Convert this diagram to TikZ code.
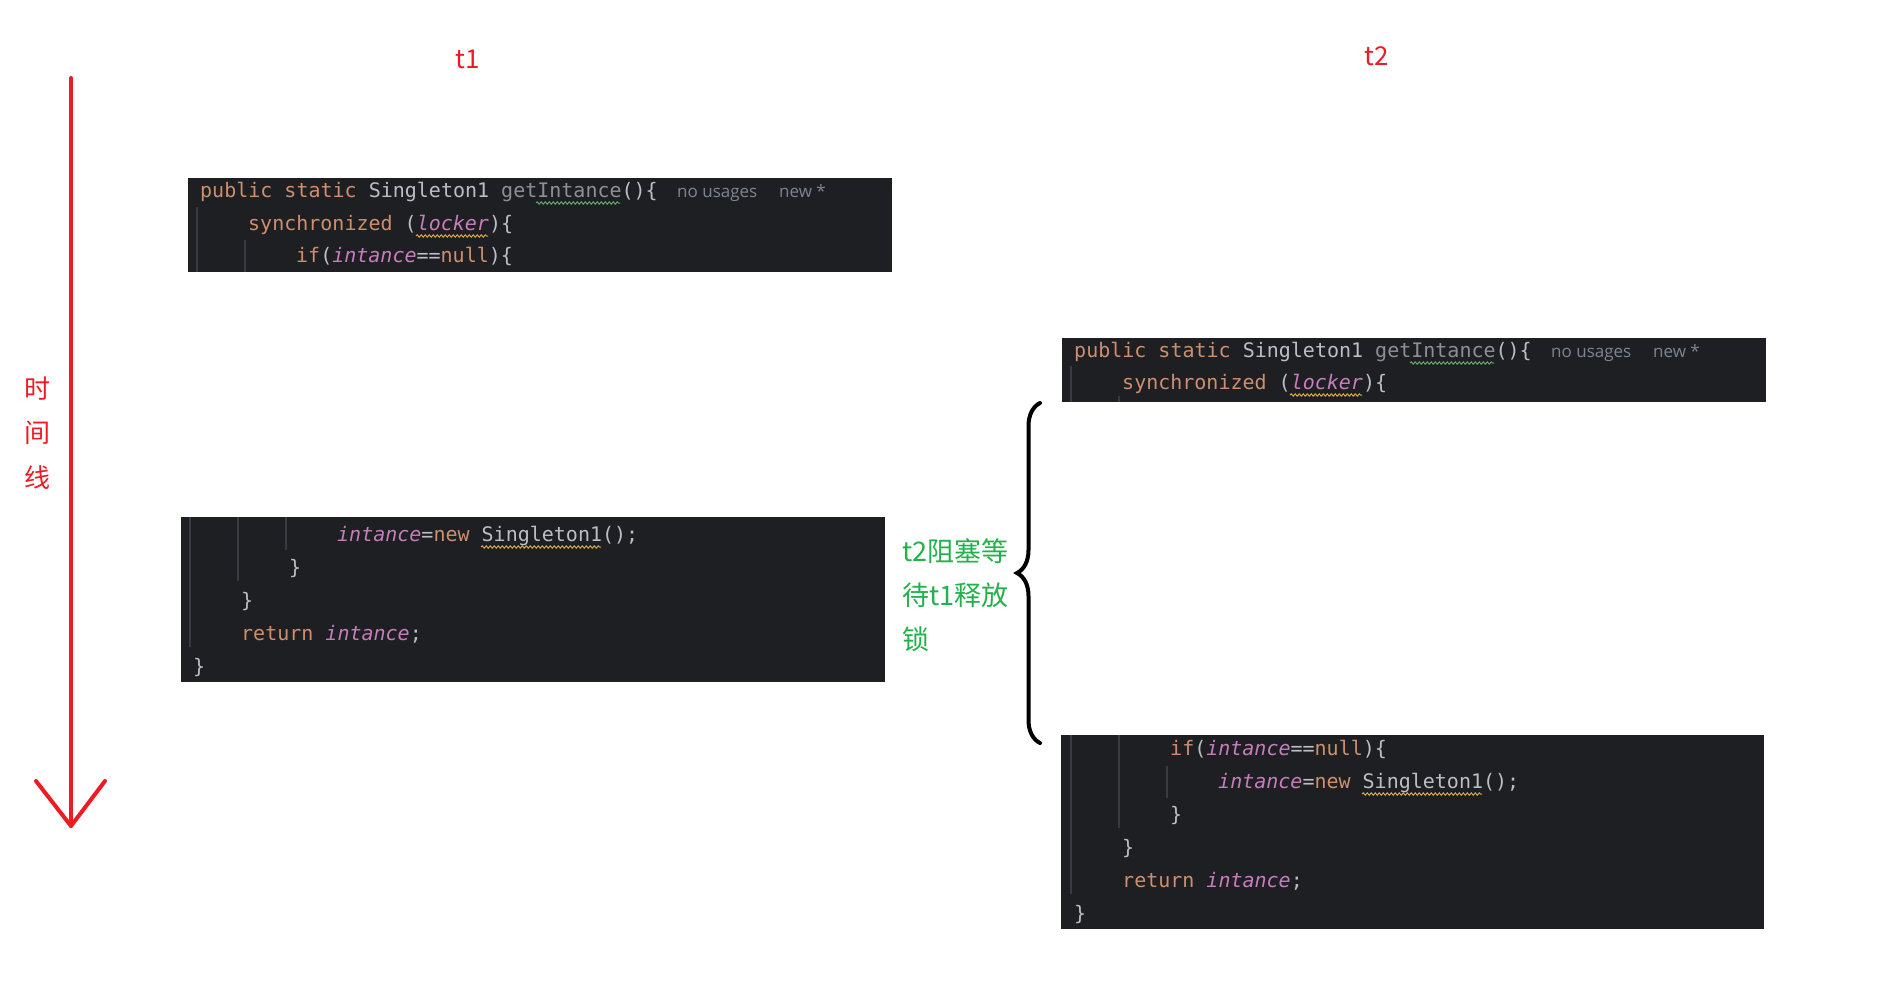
\documentclass[tikz,border=0pt]{standalone}
\usepackage{fontspec}
\usetikzlibrary{decorations.pathmorphing,decorations.pathreplacing}
\newfontfamily\codefont{DejaVu Sans Mono}[ItalicFont={* Oblique}]
\newfontfamily\hintfont{Open Sans}
\newfontfamily\cjk{Noto Sans CJK SC}
\definecolor{bg}{HTML}{1E1F22}
\definecolor{kw}{HTML}{CF8E6D}
\definecolor{txt}{HTML}{BCBEC4}
\definecolor{fld}{HTML}{C77DBB}
\definecolor{gry}{HTML}{8C8F94}
\definecolor{hintc}{HTML}{7E8590}
\definecolor{guidec}{HTML}{393B40}
\definecolor{wavegreen}{HTML}{5FA866}
\definecolor{waveyellow}{HTML}{D9A83F}
\definecolor{redc}{HTML}{ED1C24}
\definecolor{greenc}{HTML}{22B14C}
\newcommand{\fl}[1]{{\itshape\color{fld}#1}}
\newcommand{\kw}[1]{\textcolor{kw}{#1}}
\begin{document}
\begin{tikzpicture}[x=1pt,y=-1pt,
  codebg/.style={fill=bg},
  codeln/.style={anchor=base west,inner sep=0pt,text=txt,font=\codefont\fontsize{20}{24}\selectfont},
  hint/.style={anchor=base west,inner sep=0pt,text=hintc,font=\hintfont\fontsize{17}{20}\selectfont},
  guide/.style={draw=guidec,line width=1.5pt},
  wavyg/.style={draw=wavegreen,line width=1pt,decorate,decoration={snake,segment length=4pt,amplitude=1.2pt}},
  wavyy/.style={draw=waveyellow,line width=1pt,decorate,decoration={snake,segment length=4pt,amplitude=1.2pt}},
  redlbl/.style={text=redc,inner sep=0pt,font=\cjk\fontsize{26}{30}\selectfont},
  cnred/.style={text=redc,inner sep=0pt,font=\cjk\fontsize{26}{30}\selectfont},
  greenlbl/.style={anchor=west,text=greenc,inner sep=0pt,font=\cjk\fontsize{27}{32}\selectfont},
  redline/.style={draw=redc,line width=4pt,line cap=round,line join=round},
  bracestyle/.style={draw=black,line width=4pt,line cap=round,decorate,decoration={brace,amplitude=23pt}}
]
\fill[white] (0,0) rectangle (1877,999);
\useasboundingbox (0,0) rectangle (1877,999);

% labels
\node[redlbl] (t1) at (468,59) {t1};
\node[redlbl] (t2) at (1377,56) {t2};

% time line
\coordinate (arrTop) at (71,78);
\coordinate (arrTip) at (71,826);
\coordinate (armL) at (36,781);
\coordinate (armR) at (105,781);
\draw[redline] (arrTop) -- (arrTip);
\draw[redline] (armL) -- (arrTip) -- (armR);
\node[cnred] (c1) at (37,389) {时};
\node[cnred] (c2) at (37,433) {间};
\node[cnred] (c3) at (37,478) {线};

% ---------- block 1 ----------
\fill[codebg] (188,178) rectangle (892,272);
\draw[guide] (197,207) -- (197,272);
\draw[guide] (245,240) -- (245,272);
\node[codeln] (a1) at (200,197) {\kw{public static }Singleton1 \textcolor{gry}{getIntance}()\{};
\node[hint] (a1h) at (677,197) {no usages};
\node[hint] (a1n) at (779,197) {new *};
\node[codeln] (a2) at (248,230) {\kw{synchronized }(\fl{locker})\{};
\node[codeln] (a3) at (296,262) {\kw{if}(\fl{intance}==\kw{null})\{};
\draw[wavyg] (536,203) -- (620,203);
\draw[wavyy] (416,236) -- (488,236);

% ---------- block 2 ----------
\fill[codebg] (181,517) rectangle (885,682);
\draw[guide] (190,517) -- (190,647);
\draw[guide] (238,517) -- (238,581);
\draw[guide] (286,517) -- (286,550);
\node[codeln] (b1) at (337,541) {\fl{intance}=\kw{new }Singleton1();};
\node[codeln] (b2) at (289,574) {\}};
\node[codeln] (b3) at (241,607) {\}};
\node[codeln] (b4) at (241,640) {\kw{return }\fl{intance};};
\node[codeln] (b5) at (193,673) {\}};
\draw[wavyy] (481,547) -- (601,547);

% ---------- block 3 ----------
\fill[codebg] (1062,338) rectangle (1766,402);
\draw[guide] (1071,366) -- (1071,402);
\draw[guide] (1119,396) -- (1119,402);
\node[codeln] (c1l) at (1074,357) {\kw{public static }Singleton1 \textcolor{gry}{getIntance}()\{};
\node[hint] (c1h) at (1551,357) {no usages};
\node[hint] (c1n) at (1653,357) {new *};
\node[codeln] (c2l) at (1122,389) {\kw{synchronized }(\fl{locker})\{};
\draw[wavyg] (1410,363) -- (1494,363);
\draw[wavyy] (1290,395) -- (1362,395);

% ---------- block 4 ----------
\fill[codebg] (1061,735) rectangle (1764,929);
\draw[guide] (1071,735) -- (1071,894);
\draw[guide] (1119,735) -- (1119,828);
\draw[guide] (1167,766) -- (1167,798);
\node[codeln] (d1) at (1170,755) {\kw{if}(\fl{intance}==\kw{null})\{};
\node[codeln] (d2) at (1218,788) {\fl{intance}=\kw{new }Singleton1();};
\node[codeln] (d3) at (1170,821) {\}};
\node[codeln] (d4) at (1122,854) {\}};
\node[codeln] (d5) at (1122,887) {\kw{return }\fl{intance};};
\node[codeln] (d6) at (1074,920) {\}};
\draw[wavyy] (1362,794) -- (1482,794);

% ---------- brace and note ----------
\draw[bracestyle] (1040,743) -- (1040,403);
\node[greenlbl] (g1) at (902,551) {t2阻塞等};
\node[greenlbl] (g2) at (902,595) {待t1释放};
\node[greenlbl] (g3) at (902,639) {锁};
\end{tikzpicture}
\end{document}
